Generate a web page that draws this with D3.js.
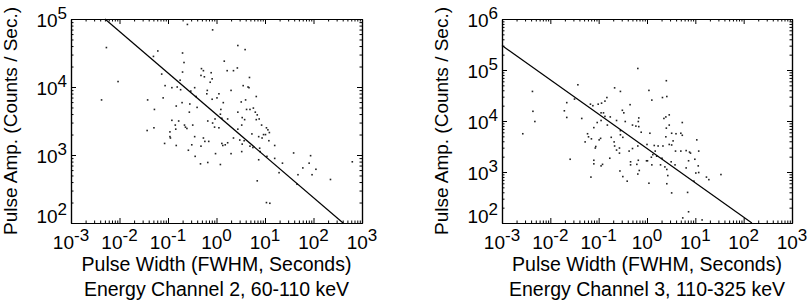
<!DOCTYPE html>
<html>
<head>
<meta charset="utf-8">
<script src="https://cdn.jsdelivr.net/npm/d3@7"></script>
<style>
  html, body { margin: 0; padding: 0; background: #fff; }
  svg { display: block; font-family: "Liberation Sans", Arial, Helvetica, sans-serif; }
</style>
</head>
<body>
<svg id="chart" width="809" height="302"></svg>
<script>
// log10 values
const ch2LogWidth = [
  -0.60,-0.08,-2.27,-1.21,-0.70,-1.30,-0.67,-0.31,-0.27,-0.70,
  -0.11,-1.13,-0.32,-0.25,-0.09,-2.03,-0.75,-1.06,-0.13,-0.92,
  -0.81,-0.74,-0.45,-0.19,-0.53,-0.20,-0.42,-2.37,-1.42,-1.10,
  -0.09,-0.71,-0.55,-0.83,-0.40,-1.28,-0.56,-0.92,-0.78,-0.18,
  -0.03,-0.85,-0.66,-0.49,-0.08,-0.84,-0.64,-0.61,-1.43,-1.29,
  -0.96,-0.04,-0.96,-0.95,-0.45,-0.27,-0.24,-0.16,-1.07,-0.83,
  -0.51,-0.32,-0.58,-0.02,-0.44,-0.33,-0.18,
  0.44,0.59,0.16,0.43,0.22,0.35,0.68,0.55,0.65,0.67,
  0.30,0.05,0.01,0.82,0.60,0.51,0.14,0.76,0.09,0.62,
  0.69,0.44,0.80,0.08,0.84,0.53,0.11,0.23,0.58,0.82,
  0.88,0.52,0.93,0.05,1.03,0.44,1.06,1.09,0.73,0.97,
  1.01,0.87,0.35,0.94,0.48,1.08,0.57,0.11,0.13,0.18,
  0.23,0.53,0.69,0.75,0.89,1.20,0.90,0.30,0.52,
  1.04,1.59,1.94,0.87,1.20,1.36,0.08,1.91,2.80,1.78,
  2.05,1.29,1.68,1.97,0.84,2.35,1.66,1.03,1.10
];
const ch2LogAmp = [
  4.92,4.84,4.58,4.53,4.50,4.45,4.36,4.27,4.24,4.22,
  4.21,4.19,4.17,4.15,4.12,4.08,4.10,4.02,4.07,3.99,
  4.00,3.96,3.99,3.95,3.94,3.90,3.86,3.81,3.81,3.84,
  3.82,3.77,3.75,3.72,3.70,3.67,3.63,3.51,3.50,3.50,
  3.53,3.44,3.44,3.44,3.47,3.38,3.41,3.39,3.36,3.40,
  3.34,3.41,3.27,3.25,3.27,3.25,3.20,3.20,3.17,3.14,
  3.15,3.13,3.07,3.02,2.98,2.87,2.89,
  4.61,4.55,4.38,4.28,4.24,4.24,4.14,4.02,4.00,3.99,
  3.95,3.90,3.84,3.86,3.81,3.78,3.77,3.69,3.67,3.67,
  3.67,3.63,3.63,3.60,3.59,3.55,3.54,3.53,3.52,3.52,
  3.53,3.44,3.44,3.40,3.40,3.38,3.37,3.33,3.31,3.30,
  3.30,3.27,3.25,3.25,3.22,3.21,3.21,3.17,3.14,3.15,
  3.18,3.16,3.13,3.11,3.10,3.14,3.05,3.02,3.05,
  2.98,3.03,2.99,2.93,2.95,2.88,2.86,2.88,2.90,2.81,
  2.79,2.74,2.71,2.71,2.62,2.64,2.57,2.30,2.29
];
const ch3LogWidth = [
  -0.19,-1.43,-0.67,-2.37,-0.55,-1.50,-0.83,-0.87,-1.66,-0.94,
  -1.17,-1.12,-1.01,-0.35,-1.71,-2.36,-0.51,-0.48,-0.95,-0.90,
  -1.66,-0.87,-0.76,-1.35,-0.17,-2.32,-0.95,-0.63,-0.45,-0.18,
  -1.03,-0.82,-0.30,-0.23,-1.10,-0.17,-0.55,-0.12,-2.57,-1.23,
  -0.55,-1.21,-0.74,-0.50,-0.96,-1.15,-0.99,-1.28,-0.68,-1.06,
  -1.07,-0.67,-0.19,-0.57,-0.63,-0.30,-0.37,-0.57,-1.59,-0.77,
  -1.10,-0.01,-0.18,-1.10,-0.92,-0.34,-0.34,-0.21,-0.95,-0.56,
  -0.16,-0.19,-0.50,-1.16,-0.41,
  0.40,0.04,0.32,0.41,0.10,0.46,0.39,0.35,0.73,0.46,
  0.40,0.06,0.60,0.70,0.51,0.73,0.39,1.03,0.54,0.00,
  0.15,0.23,0.33,0.46,0.51,0.59,0.70,0.81,0.88,0.90,
  1.07,0.17,0.12,0.20,0.09,0.01,0.31,0.99,0.50,0.86,
  0.10,0.28,0.37,0.58,1.06,0.81,0.41,0.43,1.01,1.07,
  1.23,1.53,1.28,0.97,0.04,0.41,0.84,0.51,0.86,0.74,1.14
];
const ch3LogAmp = [
  5.03,4.71,4.65,4.58,4.58,4.43,4.46,4.39,4.36,4.35,
  4.33,4.30,4.33,4.32,4.20,4.19,4.21,4.16,4.16,4.16,
  4.07,4.09,4.08,4.05,4.06,3.99,4.01,4.01,3.99,3.99,
  3.97,3.92,3.92,3.90,3.87,3.89,3.81,3.78,3.75,3.75,
  3.73,3.69,3.68,3.68,3.66,3.65,3.63,3.59,3.59,3.50,
  3.47,3.51,3.51,3.47,3.43,3.46,3.41,3.37,3.25,3.27,
  3.23,3.22,3.23,3.16,3.15,3.20,3.14,3.15,3.12,3.02,
  3.03,2.96,2.91,2.90,2.82,
  4.79,4.60,4.46,4.48,4.41,4.12,4.08,4.05,3.97,3.92,
  3.86,3.76,3.75,3.76,3.76,3.72,3.69,3.63,3.61,3.54,
  3.52,3.51,3.51,3.54,3.53,3.41,3.41,3.42,3.39,3.37,
  3.41,3.41,3.34,3.31,3.29,3.22,3.27,3.25,3.20,3.22,
  3.14,3.14,3.10,3.14,3.12,3.08,3.05,2.93,2.98,2.99,
  2.90,2.95,2.85,2.82,2.78,2.77,2.60,2.59,2.22,2.10,2.06
];

// power-law fit lines (end points, log10)
const ch2FitLogWidth = [-2.30, 2.61];
const ch2FitLogAmp = [5.0, 2.0];
const ch3FitLogWidth = [-3.0, 2.17];
const ch3FitLogAmp = [5.48, 2.0];

const widthDecades = [-3, -2, -1, 0, 1, 2, 3];
const ch2AmpDecades = [2, 3, 4, 5];
const ch3AmpDecades = [2, 3, 4, 5, 6];

const xTitle = "Pulse Width (FWHM, Seconds)";
const yTitle = "Pulse Amp. (Counts / Sec.)";
const ch2Subtitle = "Energy Channel 2, 60-110 keV";
const ch3Subtitle = "Energy Channel 3, 110-325 keV";

const svg = d3.select("#chart");

const minorTicks = (decades) => {
  const out = [];
  for (let i = 0; i < decades.length - 1; i++) {
    for (let m = 2; m <= 9; m++) out.push(m * Math.pow(10, decades[i]));
  }
  return out;
};
const majorTicks = (decades) => decades.map((d) => Math.pow(10, d));

// draws "10" with a raised exponent
const powerLabel = (sel, exp) => {
  sel.append("tspan").text("10");
  sel.append("tspan")
    .attr("dy", -8)
    .style("font-size", "17px")
    .text(exp);
};

function drawPanel(left, right, yDecades, logW, logA, fitW, fitA, subtitle) {
  const top = 19, bottom = 223;

  const x = d3.scaleLog()
    .domain([1e-3, 1e3])
    .range([left, right]);
  const y = d3.scaleLog()
    .domain([Math.pow(10, yDecades[0]), Math.pow(10, yDecades[yDecades.length - 1])])
    .range([bottom, top]);

  const g = svg.append("g");

  // box with inward ticks on all four sides
  const axes = [
    { gen: d3.axisBottom, scale: x, t: `translate(0,${bottom})`, dec: widthDecades },
    { gen: d3.axisTop, scale: x, t: `translate(0,${top})`, dec: widthDecades },
    { gen: d3.axisLeft, scale: y, t: `translate(${left},0)`, dec: yDecades },
    { gen: d3.axisRight, scale: y, t: `translate(${right},0)`, dec: yDecades },
  ];
  axes.forEach((a) => {
    g.append("g")
      .attr("transform", a.t)
      .call(a.gen(a.scale).tickValues(minorTicks(a.dec)).tickSize(-2.5).tickSizeOuter(0).tickFormat(""));
    g.append("g")
      .attr("transform", a.t)
      .call(a.gen(a.scale).tickValues(majorTicks(a.dec)).tickSize(-5).tickSizeOuter(0).tickFormat(""));
  });
  g.selectAll(".domain").attr("stroke", "#000").attr("stroke-width", 1.2);
  g.selectAll(".tick line").attr("stroke", "#000").attr("stroke-width", 1);

  // x tick labels
  widthDecades.forEach((d) => {
    g.append("text")
      .attr("x", x(Math.pow(10, d)))
      .attr("y", bottom + 26)
      .attr("text-anchor", "middle")
      .style("font-size", "19px")
      .call(powerLabel, d);
  });

  // y tick labels (lowest one is lifted clear of the x labels)
  yDecades.forEach((d, i) => {
    g.append("text")
      .attr("x", left - 4)
      .attr("y", y(Math.pow(10, d)) + (i === 0 ? 0 : 8))
      .attr("text-anchor", "end")
      .style("font-size", "19px")
      .call(powerLabel, d);
  });

  // scatter
  g.append("g")
    .selectAll("rect")
    .data(logW.map((w, i) => ({ w: Math.pow(10, w), a: Math.pow(10, logA[i]) })))
    .enter()
    .append("rect")
    .attr("x", (d) => x(d.w) - 0.8)
    .attr("y", (d) => y(d.a) - 0.8)
    .attr("width", 1.6)
    .attr("height", 1.6)
    .attr("fill", "#222");

  // fit line
  const line = d3.line()
    .x((d) => x(d[0]))
    .y((d) => y(d[1]));
  g.append("path")
    .datum(fitW.map((w, i) => [Math.pow(10, w), Math.pow(10, fitA[i])]))
    .attr("d", line)
    .attr("fill", "none")
    .attr("stroke", "#000")
    .attr("stroke-width", 1.2);

  // titles
  const cx = (left + right) / 2;
  g.append("text")
    .attr("x", cx)
    .attr("y", 271)
    .attr("text-anchor", "middle")
    .style("font-size", "19.5px")
    .text(xTitle);
  g.append("text")
    .attr("x", cx)
    .attr("y", 296)
    .attr("text-anchor", "middle")
    .style("font-size", "19.5px")
    .text(subtitle);
  g.append("text")
    .attr("transform", `translate(${left - 54},${(top + bottom) / 2}) rotate(-90)`)
    .attr("text-anchor", "middle")
    .style("font-size", "19px")
    .text(yTitle);
}

drawPanel(71, 362, ch2AmpDecades, ch2LogWidth, ch2LogAmp, ch2FitLogWidth, ch2FitLogAmp, ch2Subtitle);
drawPanel(502, 792, ch3AmpDecades, ch3LogWidth, ch3LogAmp, ch3FitLogWidth, ch3FitLogAmp, ch3Subtitle);
</script>
</body>
</html>
